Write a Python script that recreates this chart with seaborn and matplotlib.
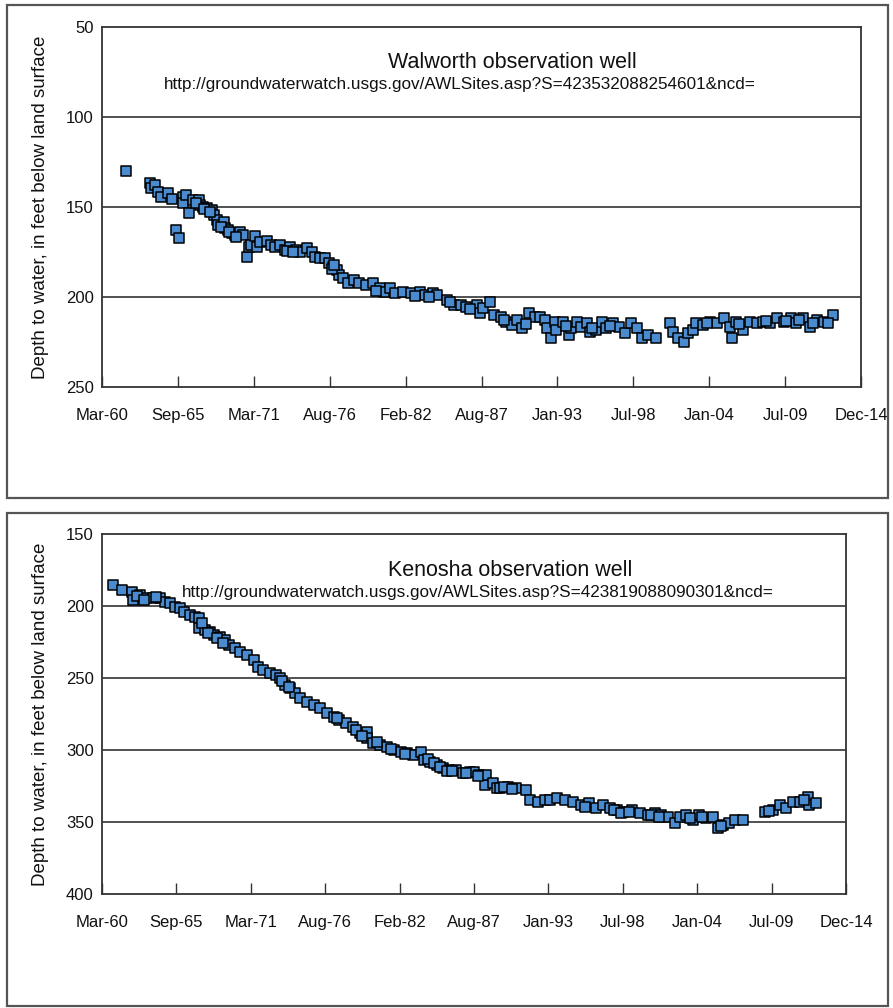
import numpy as np
import pandas as pd
import matplotlib
matplotlib.use("Agg")
import matplotlib.pyplot as plt
from matplotlib.patches import Rectangle
import seaborn as sns

# ---------------- data ----------------
walworth_year = [
    1961.96, 1963.7, 1963.8, 1964.05, 1964.3, 1964.5, 1965.0, 1965.3, 1965.6, 1965.8,
    1966.1, 1966.1, 1966.3, 1966.5, 1966.8, 1967.2, 1967.3, 1967.5, 1967.8, 1968.2,
    1968.3, 1968.5, 1968.6, 1969.0, 1969.1, 1969.3, 1969.6, 1969.8, 1970.2, 1970.4,
    1970.7, 1970.8, 1971.0, 1971.3, 1971.4, 1971.6, 1972.1, 1972.4, 1972.7, 1973.1,
    1973.4, 1973.8, 1974.2, 1974.5, 1975.0, 1975.4, 1975.6, 1975.96, 1976.3, 1976.6,
    1976.9, 1977.2, 1977.3, 1977.6, 1978.0, 1978.4, 1978.8, 1979.3, 1979.8, 1980.3,
    1980.6, 1981.0, 1981.4, 1981.97, 1982.5, 1983.2, 1983.5, 1984.1, 1984.4, 1985.1,
    1985.6, 1986.1, 1986.5, 1987.3, 1987.5, 1987.7, 1988.2, 1988.5, 1989.0, 1989.4,
    1989.8, 1990.2, 1990.5, 1991.0, 1991.5, 1991.8, 1992.2, 1992.3, 1992.6, 1992.9,
    1993.0, 1993.5, 1993.9, 1994.1, 1994.5, 1994.8, 1995.2, 1995.4, 1995.9, 1996.3,
    1996.6, 1997.1, 1997.5, 1997.95, 1998.4, 1998.8, 1999.2, 1999.6, 2000.2,
    2001.2, 2001.4, 2001.8, 2002.2, 2002.5, 2002.9, 2003.1, 2003.6, 2004.1, 2004.6,
    2005.1, 2005.5, 2005.7, 2006.0, 2006.5, 2007.0, 2007.5, 2007.9, 2008.4, 2008.9,
    2009.4, 2009.9, 2010.3, 2010.8, 2011.3, 2011.8, 2012.3, 2013.0,
    1967.0, 1967.6, 1968.0, 1968.8, 1969.4, 1969.9, 1973.6, 1974.0, 1976.8, 1977.0,
    1980.0, 1982.8, 1983.8, 1985.3, 1986.8, 1989.2, 1990.8, 1993.7, 1995.6, 1996.9,
    2003.9, 2006.2, 2008.1, 2009.6, 2010.5, 2011.5, 2012.6,
]
walworth_depth = [
    130, 136.8, 139.6, 137.8, 141.5, 144.3, 142.4, 145.5, 162.8, 167,
    144.3, 147.8, 143.3, 153.5, 146, 146, 148.9, 149.8, 150.7, 151.7,
    154.4, 157.2, 160, 158.2, 161.8, 162.8, 164.6, 165.6, 163.7, 165.6,
    177.6, 172, 171.1, 166.1, 172, 169.3, 168.7, 171.1, 172, 171.1,
    173.9, 172, 173.9, 174.8, 173, 174.8, 177.6, 178.5, 178.5, 181.3,
    183.2, 185, 187.8, 189.6, 192.4, 190.6, 192.4, 193.3, 192.4, 195.2,
    197, 195.2, 197.9, 197, 197.9, 197, 198.9, 197.9, 198.9, 201.7,
    204.4, 204.4, 205.4, 204.4, 209, 206.3, 202.6, 210, 211, 213.7,
    215.6, 212.8, 217.4, 209, 211, 211, 212.8, 217.4, 223, 213.7,
    218.3, 213.7, 221, 217.4, 213.7, 216.5, 214.6, 219.3, 218.3, 213.7,
    217.4, 214.6, 216.5, 220.2, 214.6, 217.4, 223, 221, 223,
    214.6, 219.3, 223, 224.8, 220.2, 218.3, 214.6, 215.6, 213.7, 214.6,
    211.8, 216.5, 223, 213.7, 218.3, 213.7, 214.6, 213.7, 214.6, 211.8,
    213.7, 211.8, 214.6, 211.8, 216.5, 212.8, 213.7, 210,
    147.5, 151, 152.5, 161, 164, 166.5, 174.5, 175, 184.5, 182,
    196.5, 199.5, 199.8, 203, 206.5, 212.5, 215, 216, 217, 216,
    214.5, 215, 213.5, 213.5, 213, 214.5, 214.5,
]

kenosha_year = [
    1961.06, 1961.7, 1962.4, 1962.5, 1963.0, 1963.5, 1964.0, 1964.5, 1964.9, 1965.2,
    1965.6, 1966.0, 1966.3, 1966.7, 1967.1, 1967.4, 1967.4, 1967.8, 1968.2, 1968.5,
    1968.9, 1969.3, 1969.6, 1970.0, 1970.4, 1970.9, 1971.4, 1971.7, 1972.1, 1972.6,
    1973.0, 1973.3, 1973.7, 1974.1, 1974.4, 1974.8, 1975.3, 1975.8, 1976.3, 1976.8,
    1977.3, 1977.7, 1978.2, 1978.7, 1979.2, 1979.7, 1979.7, 1980.2, 1980.7, 1981.2,
    1981.7, 1982.2, 1982.7, 1983.1, 1983.7, 1983.9, 1984.4, 1984.9, 1985.3, 1985.8,
    1986.3, 1986.8, 1987.3, 1987.6, 1988.0, 1988.4, 1988.5, 1989.0, 1989.3, 1989.5,
    1990.1, 1990.7, 1991.4, 1991.7, 1992.3, 1992.8, 1993.2, 1993.7, 1994.3, 1994.9,
    1995.5, 1996.1, 1996.6, 1997.1, 1997.6, 1998.1, 1998.6, 1999.2, 1999.8, 2000.4,
    2000.9, 2001.4, 2001.9, 2002.4, 2002.8, 2003.2, 2003.7, 2004.2, 2004.7, 2005.2,
    2005.6, 2005.95, 2006.4, 2006.8, 2007.4,
    2009.0, 2009.6, 2010.1, 2010.6, 2011.1, 2011.6, 2012.2, 2012.3, 2012.8,
    1962.8, 1963.3, 1964.2, 1967.6, 1968.0, 1968.7, 1969.1, 1973.5, 1974.0, 1977.5,
    1978.9, 1979.4, 1980.5, 1981.5, 1982.5, 1984.2, 1984.7, 1985.1, 1985.6, 1986.0,
    1987.0, 1987.9, 1989.8, 1990.4, 1995.8, 1997.9, 1998.4, 1999.0, 2000.6, 2001.2,
    2003.5, 2004.4, 2005.8, 2009.3, 2011.9,
]
kenosha_depth = [
    185.4, 188.9, 190, 195.8, 192.4, 194.7, 194.7, 194.7, 197, 198.1,
    200.5, 201.6, 204, 206.3, 207.4, 208.5, 215.5, 216.7, 217.8, 220.1,
    221.3, 223.6, 227, 229.4, 231.7, 234, 237.5, 242.1, 244.4, 246.7,
    247.9, 250.2, 254.9, 257.2, 260.6, 264.1, 266.4, 268.8, 271, 274.5,
    276.9, 279.2, 281.5, 283.8, 288.4, 287.3, 291.9, 295.4, 296.5, 297.7,
    300, 301.2, 302.3, 303.5, 301.2, 307, 308.1, 310.4, 312.7, 313.9,
    313.9, 316.2, 315, 315, 317.4, 324.3, 317.4, 323.1, 326.6, 326.6,
    325.5, 326.6, 327.8, 334.7, 335.9, 334.7, 334.7, 333.5, 334.7, 335.9,
    338.2, 337, 340.5, 338.2, 340.5, 341.7, 342.8, 341.7, 344, 345.2,
    344, 345.2, 346.3, 350.9, 346.3, 345.2, 348.6, 345.2, 347.4, 346.3,
    354.4, 352.1, 350.9, 348.6, 348.6,
    342.8, 341.7, 338.2, 340.5, 335.9, 335.9, 332.4, 338.2, 337,
    193, 196, 193.5, 212, 219, 222, 225.5, 252, 256.5, 278,
    286, 290, 294.5, 299, 303, 306.5, 309, 311.5, 314.5, 314.5,
    316, 318, 326, 327, 339.5, 342, 343.5, 343, 345, 346.8,
    347.5, 346.8, 353, 342.5, 335,
]

x_tick_labels = ["Mar-60", "Sep-65", "Mar-71", "Aug-76", "Feb-82", "Aug-87",
                 "Jan-93", "Jul-98", "Jan-04", "Jul-09", "Dec-14"]
walworth_yticks = [50, 100, 150, 200, 250]
kenosha_yticks = [150, 200, 250, 300, 350, 400]

ylabel = "Depth to water, in feet below land surface"
titles = ["Walworth observation well", "Kenosha observation well"]
urls = ["http://groundwaterwatch.usgs.gov/AWLSites.asp?S=423532088254601&ncd=",
        "http://groundwaterwatch.usgs.gov/AWLSites.asp?S=423819088090301&ncd="]


def to_dates(years):
    out = []
    for y in years:
        yi = int(y)
        out.append(pd.Timestamp(yi, 1, 1) + pd.Timedelta(days=(y - yi) * 365.25))
    return out


# Excel-like date axis: serial 22000 .. 42000, major unit 2000 days
excel0 = pd.Timestamp("1899-12-30")
tick_dates = [excel0 + pd.Timedelta(days=22000 + 2000 * i) for i in range(len(x_tick_labels))]

sns.set_theme(style="white")
plt.rcParams["font.family"] = ["Liberation Sans", "DejaVu Sans"]

fig = plt.figure(figsize=(8.93, 10.08), dpi=100)

# panel frames
for y0 in (0.504, 0.0):
    fig.patches.append(Rectangle((0.008, y0 + 0.002), 0.986, 0.489, transform=fig.transFigure,
                                 fill=False, edgecolor="#555555", linewidth=1.6, zorder=0))

W = 893.0
H = 1008.0
ax1 = fig.add_axes([102 / W, 1 - 387 / H, (861 - 102) / W, 360 / H])
ax2 = fig.add_axes([102 / W, 1 - 894 / H, (846 - 102) / W, 360 / H])

panels = [
    (ax1, walworth_year, walworth_depth, walworth_yticks, 0),
    (ax2, kenosha_year, kenosha_depth, kenosha_yticks, 1),
]

for ax, yrs, dep, yt, k in panels:
    df = pd.DataFrame({"date": to_dates(yrs), "depth": dep})
    sns.scatterplot(data=df, x="date", y="depth", ax=ax, marker="s", s=50,
                    color="#4A8BD0", edgecolor="black", linewidth=1.1, zorder=3)
    ax.set_xlim(tick_dates[0], tick_dates[-1])
    ax.set_ylim(yt[-1], yt[0])
    ax.set_yticks(yt)
    ax.set_yticklabels([str(v) for v in yt])
    ax.set_xticks(tick_dates)
    ax.set_xticklabels(x_tick_labels)
    for v in yt[1:-1]:
        ax.axhline(v, color="#333333", linewidth=1.2, zorder=1)
    ax.tick_params(axis="x", direction="in", length=8, width=1.0, color="#333333",
                   pad=15, labelsize=12, labelcolor="#111111", top=False, bottom=True)
    ax.tick_params(axis="y", length=0, pad=6, labelsize=12, labelcolor="#111111")
    for sp in ax.spines.values():
        sp.set_color("#333333")
        sp.set_linewidth(1.3)
        sp.set_visible(True)
    ax.set_xlabel("")
    ax.set_ylabel(ylabel, fontsize=13.5, color="#111111", labelpad=12)
    ax.grid(False)

fig.text(512 / W, 1 - 62 / H, titles[0], ha="center", va="center", fontsize=15.5, color="#111111")
fig.text(460 / W, 1 - 85 / H, urls[0], ha="center", va="center", fontsize=12.3, color="#111111")
fig.text(510 / W, 1 - 570 / H, titles[1], ha="center", va="center", fontsize=15.5, color="#111111")
fig.text(478 / W, 1 - 593 / H, urls[1], ha="center", va="center", fontsize=12.3, color="#111111")

fig.savefig("out.png", dpi=100)
